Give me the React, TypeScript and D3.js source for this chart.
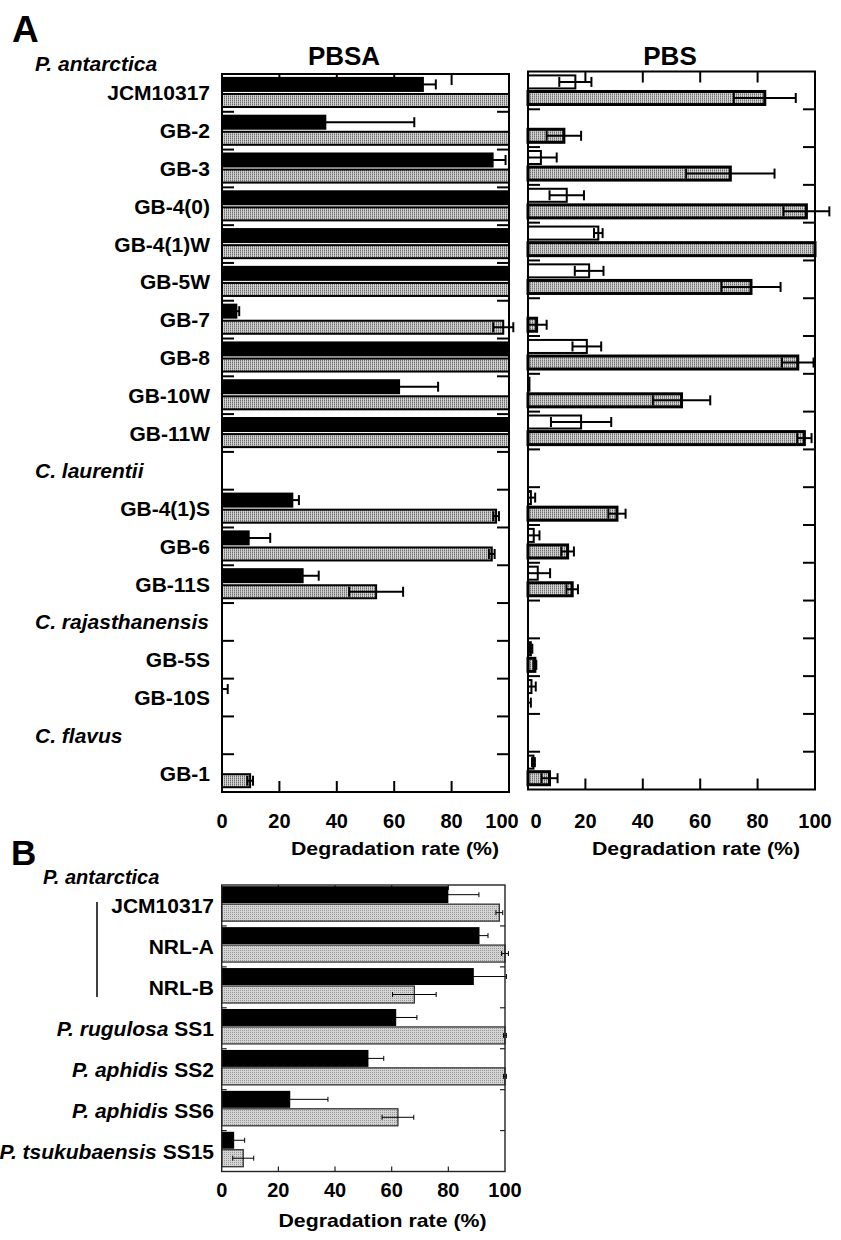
import React from "react";
import * as d3 from "d3";

// ---- panel A data (PBSA / PBS emulsions) ----
const rowsA = ["JCM10317", "GB-2", "GB-3", "GB-4(0)", "GB-4(1)W", "GB-5W", "GB-7", "GB-8", "GB-10W", "GB-11W",
  "C. laurentii", "GB-4(1)S", "GB-6", "GB-11S", "C. rajasthanensis", "GB-5S", "GB-10S", "C. flavus", "GB-1"];
const groupHeadsA = ["C. laurentii", "C. rajasthanensis", "C. flavus"];
const topGroupA = "P. antarctica";

const pbsaDark = [70, 36, 94.3, 100, 100, 100, 5, 100, 61.7, 100, null, 24.5, 9.3, 28.1, null, 0, 0, null, 0];
const pbsaDarkErr = [4.5, 31, 4.5, 0, 0, 0, 1, 0, 13.6, 0, null, 2.3, 7.5, 5.6, null, 0, 2, null, 0];
const pbsaGrey = [100, 100, 100, 100, 100, 100, 98, 100, 100, 100, null, 95.5, 94, 53.7, null, 0, 0, null, 9.8];
const pbsaGreyErr = [0, 0, 0, 0, 0, 0, 3.5, 0, 0, 0, null, 1, 1, 9.4, null, 0, 0, null, 1];

const pbsOpen = [16.5, 0, 4.5, 13.5, 24.5, 21.3, 0, 20.5, 0.5, 18.5, null, 1, 2, 3.4, null, 1, 1.2, null, 1.9];
const pbsOpenErr = [5.6, 0, 5.5, 6, 1.5, 5, 0, 5, 0, 10.5, null, 1.5, 2, 4.3, null, 0.5, 1.5, null, 0.5];
const pbsGrey = [82.5, 12.5, 70.5, 97, 100, 77.7, 3, 94, 53.5, 96.3, null, 31, 13.8, 15.4, null, 2.4, 0, null, 7.5];
const pbsGreyErr = [10.8, 6, 15.4, 8, 0, 10.3, 3.5, 5.5, 10, 2.5, null, 3, 2.2, 2, null, 0.5, 1, null, 2.8];

// ---- panel B data ----
const strainsB = ["JCM10317", "NRL-A", "NRL-B", "SS1", "SS2", "SS6", "SS15"];
const speciesB = ["", "", "", "P. rugulosa", "P. aphidis", "P. aphidis", "P. tsukubaensis"];
const bDark = [80, 91, 89, 61.6, 51.8, 24.2, 4.4];
const bDarkErr = [10.8, 3, 11.5, 7.3, 5.4, 13.3, 3.7];
const bGrey = [98, 100, 68, 100, 100, 62.2, 7.6];
const bGreyErr = [1.2, 1.2, 7.7, 0.5, 0.5, 5.6, 3.7];

const xTicks = [0, 20, 40, 60, 80, 100];
const innerTicks = [20, 40, 60, 80];

const FONT = "'Liberation Sans', Arial, Helvetica, sans-serif";

function Series({ rows, vals, errs, x, y, inner, slot, fill, stroke, sw, cap, esw }: any) {
  const h = inner.bandwidth();
  return (
    <g>
      {rows.map((r: string, i: number) => {
        const v = vals[i];
        if (v == null) return null;
        const e = errs[i] ?? 0;
        if (v === 0 && e === 0) return null;
        const yy = y(r) + inner(slot);
        const cy = yy + h / 2;
        const lo = Math.max(0, v - e);
        const hi = v + e;
        return (
          <g key={r}>
            {v > 0 && (
              <rect x={x(0)} y={yy} width={x(v) - x(0)} height={h}
                fill={fill} stroke={stroke} strokeWidth={sw} />
            )}
            {e > 0 && (
              <g stroke="#000" strokeWidth={esw}>
                <line x1={x(lo)} x2={x(hi)} y1={cy} y2={cy} />
                <line x1={x(hi)} x2={x(hi)} y1={cy - cap / 2} y2={cy + cap / 2} />
                {v - e > 0 && <line x1={x(lo)} x2={x(lo)} y1={cy - cap / 2} y2={cy + cap / 2} />}
              </g>
            )}
          </g>
        );
      })}
    </g>
  );
}

function FrameTicks({ x, y, n, tick, sideTick, sw, color }: any) {
  const [y0, y1] = y.range();
  const [x0, x1] = x.range();
  const bounds = d3.range(1, n).map((i) => y0 + i * y.step());
  return (
    <g stroke={color} strokeWidth={sw}>
      {innerTicks.map((t) => (
        <g key={t}>
          <line x1={x(t)} x2={x(t)} y1={y0} y2={y0 + tick} />
          <line x1={x(t)} x2={x(t)} y1={y1} y2={y1 - tick} />
        </g>
      ))}
      {bounds.map((b) => (
        <g key={b}>
          <line x1={x0} x2={x0 + sideTick} y1={b} y2={b} />
          <line x1={x1} x2={x1 - sideTick} y1={b} y2={b} />
        </g>
      ))}
    </g>
  );
}

function Frame({ x, y, sw, color }: any) {
  const [y0, y1] = y.range();
  const [x0, x1] = x.range();
  return <rect x={x0} y={y0} width={x1 - x0} height={y1 - y0} fill="none" stroke={color} strokeWidth={sw} />;
}

export default function App() {
  const xA = d3.scaleLinear().domain([0, 100]).range([222, 509]);
  const xP = d3.scaleLinear().domain([0, 100]).range([528, 815]);
  const yA = d3.scaleBand<string>().domain(rowsA).range([74, 792]);
  const yP = d3.scaleBand<string>().domain(rowsA).range([71.5, 789.5]);
  const innerA = d3.scaleBand<string>().domain(["top", "bot"]).range([0, yA.bandwidth()])
    .paddingInner(0.19).paddingOuter(0.27).align(0.45);

  const xB = d3.scaleLinear().domain([0, 100]).range([221.7, 505]);
  const yB = d3.scaleBand<string>().domain(strainsB).range([885, 1171.5]);
  const innerB = d3.scaleBand<string>().domain(["top", "bot"]).range([0, yB.bandwidth()])
    .paddingInner(0.055).paddingOuter(0.167).align(0.2);

  const labelY = (y: any, r: string) => (y(r) as number) + y.bandwidth() / 2 + 7.5;

  return (
    <svg width={841} height={1240} style={{ position: "absolute", left: 0, top: 0, background: "#fff" }}
      fontFamily={FONT} fontWeight="bold">
      <defs>
        <pattern id="stipA" width={2} height={2} patternUnits="userSpaceOnUse">
          <rect width={2} height={2} fill="#d2d2d2" />
          <rect width={1} height={1} fill="#6e6e6e" />
          <rect y={1} width={1} height={1} fill="#a0a0a0" />
        </pattern>
        <pattern id="stipB" width={2} height={2} patternUnits="userSpaceOnUse">
          <rect width={2} height={2} fill="#d4d4d4" />
          <rect width={1} height={1} fill="#999" />
        </pattern>
      </defs>

      {/* ---------- Panel A ---------- */}
      <text x={12} y={42} fontSize={37}>A</text>
      <text x={344} y={65} fontSize={26} textAnchor="middle">PBSA</text>
      <text x={670} y={65} fontSize={26} textAnchor="middle">PBS</text>

      <text x={35} y={70.5} fontSize={21} fontStyle="italic">{topGroupA}</text>
      {rowsA.map((r) =>
        groupHeadsA.includes(r) ? (
          <text key={r} x={35} y={labelY(yA, r)} fontSize={21} fontStyle="italic">{r}</text>
        ) : (
          <text key={r} x={210} y={labelY(yA, r)} fontSize={21} textAnchor="end">{r}</text>
        )
      )}

      {/* PBSA */}
      <FrameTicks x={xA} y={yA} n={rowsA.length} tick={11} sideTick={12} sw={2} color="#000" />
      <Series rows={rowsA} vals={pbsaDark} errs={pbsaDarkErr} x={xA} y={yA} inner={innerA} slot="top"
        fill="#000" stroke="#000" sw={2} cap={10} esw={2} />
      <Series rows={rowsA} vals={pbsaGrey} errs={pbsaGreyErr} x={xA} y={yA} inner={innerA} slot="bot"
        fill="url(#stipA)" stroke="#000" sw={2} cap={10} esw={2} />
      <Frame x={xA} y={yA} sw={2} color="#000" />

      {/* PBS */}
      <FrameTicks x={xP} y={yP} n={rowsA.length} tick={11} sideTick={12} sw={2} color="#000" />
      <Series rows={rowsA} vals={pbsOpen} errs={pbsOpenErr} x={xP} y={yP} inner={innerA} slot="top"
        fill="#fff" stroke="#000" sw={2} cap={10} esw={2} />
      <Series rows={rowsA} vals={pbsGrey} errs={pbsGreyErr} x={xP} y={yP} inner={innerA} slot="bot"
        fill="url(#stipA)" stroke="#000" sw={3} cap={10} esw={2} />
      <Frame x={xP} y={yP} sw={2} color="#000" />

      {xTicks.map((t) => (
        <g key={t} fontSize={20} textAnchor="middle">
          <text x={xA(t)} y={828} dx={t === 100 ? -7 : 0}>{t}</text>
          <text x={xP(t)} y={828} dx={t === 0 ? 8 : 0}>{t}</text>
        </g>
      ))}
      <text x={395} y={855} fontSize={18} textAnchor="middle" textLength={208} lengthAdjust="spacingAndGlyphs">
        Degradation rate (%)
      </text>
      <text x={696} y={855} fontSize={18} textAnchor="middle" textLength={208} lengthAdjust="spacingAndGlyphs">
        Degradation rate (%)
      </text>

      {/* ---------- Panel B ---------- */}
      <text x={11} y={865} fontSize={35}>B</text>
      <text x={43} y={884} fontSize={20} fontStyle="italic">P. antarctica</text>
      <line x1={97} x2={97} y1={902} y2={997} stroke="#000" strokeWidth={1.5} />
      {strainsB.map((s, i) => (
        <text key={s} x={214} y={labelY(yB, s)} fontSize={21} textAnchor="end">
          {speciesB[i] && <tspan fontStyle="italic">{speciesB[i] + " "}</tspan>}
          {s}
        </text>
      ))}

      <FrameTicks x={xB} y={yB} n={strainsB.length} tick={5} sideTick={5} sw={1.2} color="#222" />
      <Series rows={strainsB} vals={bDark} errs={bDarkErr} x={xB} y={yB} inner={innerB} slot="top"
        fill="#000" stroke="none" sw={0} cap={5} esw={1} />
      <Series rows={strainsB} vals={bGrey} errs={bGreyErr} x={xB} y={yB} inner={innerB} slot="bot"
        fill="url(#stipB)" stroke="#333" sw={1.3} cap={5} esw={1} />
      <Frame x={xB} y={yB} sw={1.4} color="#222" />

      {xTicks.map((t) => (
        <text key={t} x={xB(t)} y={1196.5} fontSize={20} textAnchor="middle">{t}</text>
      ))}
      <text x={382.5} y={1227} fontSize={19} textAnchor="middle" textLength={208} lengthAdjust="spacingAndGlyphs">
        Degradation rate (%)
      </text>
    </svg>
  );
}
